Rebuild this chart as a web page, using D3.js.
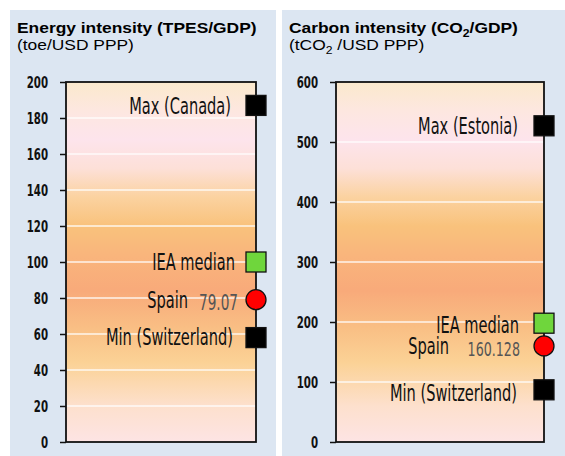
<!DOCTYPE html>
<html><head><meta charset="utf-8">
<script src="https://cdn.jsdelivr.net/npm/d3@7"></script>
<style>body{margin:0;background:#fff}svg{display:block}</style>
</head><body>
<svg id="c" width="565" height="456"></svg>
<script>
// ---- data ----
const panelTitles = ["Energy intensity (TPES/GDP)", "Carbon intensity (CO|2|/GDP)"];
const panelUnits = ["(toe/USD PPP)", "(tCO|2| /USD PPP)"];
const yMax = [200, 600];
const tickStep = [20, 100];
const energyLabels = ["Max (Canada)", "IEA median", "Spain", "Min (Switzerland)"];
const carbonLabels = ["Max (Estonia)", "IEA median", "Spain", "Min (Switzerland)"];
const energyValues = [187, 100, 79.07, 58];
const carbonValues = [527, 198, 160.128, 87];
const valueLabels = ["79.07", "160.128"];
const markerKinds = ["max", "median", "country", "min"];

const svg = d3.select("#c");
const font = "'DejaVu Sans',sans-serif";

const panels = [
  {x0:10, x1:276, plotL:66, plotR:256, values: energyValues, labels: energyLabels,
   labelEnd:[231,235,188,233], labelDy:[0,0,0,-1], valEnd:238, valDy:2, valSize:22, valSx:0.62},
  {x0:282, x1:565, plotL:336, plotR:544, values: carbonValues, labels: carbonLabels,
   labelEnd:[518,519,449,517], labelDy:[0,1.5,0,3], valEnd:520, valDy:3, valSize:19.5, valSx:0.65}
];

// gradient
const defs = svg.append("defs");
const grad = defs.append("linearGradient").attr("id","g").attr("x1",0).attr("y1",1).attr("x2",0).attr("y2",0);
[[0,"#fde4e4"],[0.1,"#fde0cd"],[0.22,"#fbd296"],[0.32,"#f9be84"],[0.42,"#f8aa7a"],[0.52,"#f9b57c"],[0.6,"#f9c27c"],[0.68,"#fbd2a0"],[0.76,"#fde0d8"],[0.84,"#fde4ec"],[0.92,"#fde7e0"],[1,"#fbe9cc"]]
  .forEach(([o,c]) => grad.append("stop").attr("offset",o).attr("stop-color",c));

function richText(sel, str) {
  const parts = str.split("|");
  parts.forEach((p,i) => {
    const t = sel.append("tspan").text(p);
    if (i % 2 === 1) t.attr("font-size","0.7em").attr("dy", 4);
    else if (i > 0) t.attr("dy", -4);
  });
}

function condText(g, x, y, str, size, sx, opts = {}) {
  return g.append("text")
    .attr("transform", `translate(${x},${y}) scale(${sx},1)`)
    .attr("dy", "0.36em").attr("text-anchor", opts.anchor || "end")
    .attr("font-family", font).attr("font-size", size)
    .attr("font-weight", opts.weight || "normal")
    .attr("fill", opts.fill || "#111").text(str);
}

panels.forEach((p, pi) => {
  const g = svg.append("g");
  g.append("rect").attr("x",p.x0).attr("y",10).attr("width",p.x1-p.x0).attr("height",446).attr("fill","#dce6f2");
  const tx = p.x0 + 7;
  richText(g.append("text").attr("transform",`translate(${tx},33) scale(1.2,1)`)
    .attr("font-family","Liberation Sans, Arial, sans-serif")
    .attr("font-weight","bold").attr("font-size",14.5).attr("fill","#000"), panelTitles[pi]);
  richText(g.append("text").attr("transform",`translate(${tx},49.5) scale(1.2,1)`)
    .attr("font-family","Liberation Sans, Arial, sans-serif")
    .attr("font-size",14.5).attr("fill","#000"), panelUnits[pi]);

  const y = d3.scaleLinear().domain([0, yMax[pi]]).range([442, 82]);
  const ticks = d3.range(0, yMax[pi] + 1, tickStep[pi]);

  g.append("rect").attr("x",p.plotL).attr("y",y(yMax[pi])).attr("width",p.plotR-p.plotL)
    .attr("height",y(0)-y(yMax[pi])).attr("fill","url(#g)");
  // gridlines
  g.selectAll(".grid").data(ticks.filter(t => t>0 && t<yMax[pi])).join("line")
    .attr("x1",p.plotL).attr("x2",p.plotR).attr("y1",d=>y(d)).attr("y2",d=>y(d))
    .attr("stroke","#fff").attr("stroke-width",1.3).attr("opacity",0.85);
  // frame
  g.append("rect").attr("x",p.plotL).attr("y",y(yMax[pi])).attr("width",p.plotR-p.plotL)
    .attr("height",y(0)-y(yMax[pi])).attr("fill","none").attr("stroke","#111").attr("stroke-width",1.8);
  // axis
  const ax = g.append("g").attr("transform",`translate(${p.plotL},0)`)
    .call(d3.axisLeft(y).tickValues(ticks).tickSize(6).tickFormat(""));
  ax.select(".domain").remove();
  ax.selectAll("line").attr("stroke","#111").attr("stroke-width",1.5);
  ax.selectAll(".tick").each(function(d) {
    condText(d3.select(this), -18, 0, d3.format("d")(d), 16.5, 0.62, {weight:"bold"});
  });

  // markers
  p.values.forEach((v, i) => {
    const cy = y(v), cx = p.plotR;
    const kind = markerKinds[i];
    if (kind === "country") {
      g.append("circle").attr("cx",cx).attr("cy",cy).attr("r",10).attr("fill","#ff0000").attr("stroke","#111").attr("stroke-width",1.3);
      condText(g, p.valEnd, cy + p.valDy, valueLabels[pi], p.valSize, p.valSx, {fill:"#555"});
    } else {
      g.append("rect").attr("x",cx-10).attr("y",cy-10).attr("width",20).attr("height",20)
        .attr("fill", kind === "median" ? "#6fd63c" : "#000").attr("stroke","#111").attr("stroke-width",1.3);
    }
    condText(g, p.labelEnd[i], cy + p.labelDy[i], p.labels[i], 23, 0.635);
  });
});
</script>
</body></html>
